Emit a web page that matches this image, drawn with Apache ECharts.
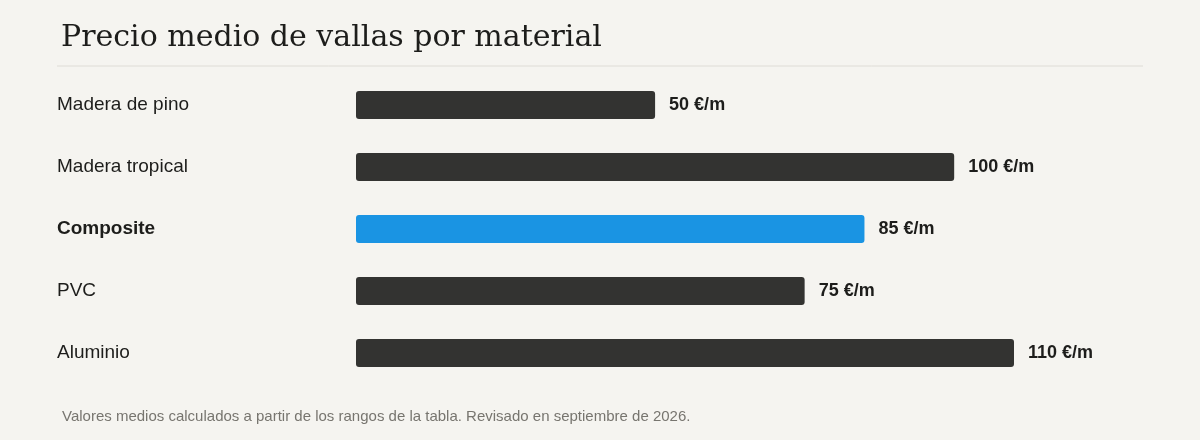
<!DOCTYPE html>
<html><head><meta charset="utf-8">
<script src="https://cdn.jsdelivr.net/npm/echarts@6/dist/echarts.min.js"></script>
<style>html,body{margin:0;background:#f5f4f0}#c{width:1200px;height:440px}</style>
</head><body><div id="c"></div>
<script>
const categories = ["Madera de pino","Madera tropical","Composite","PVC","Aluminio"];
const values = [50,100,85,75,110];
const highlight = "Composite";
const chart = echarts.init(document.getElementById('c'));
chart.setOption({
  backgroundColor:'#f5f4f0',
  title:[{text:'Precio medio de vallas por material',left:56,top:18,textStyle:{fontFamily:'DejaVu Serif, Liberation Serif, serif',fontWeight:'normal',fontSize:30,color:'#1d1d1b'}},
    {text:'Valores medios calculados a partir de los rangos de la tabla. Revisado en septiembre de 2026.',left:57,top:404,textStyle:{fontFamily:'Liberation Sans, Arial, sans-serif',fontWeight:'normal',fontSize:15,color:'#77756f'}}],
  graphic:[{type:'line',shape:{x1:57,y1:66,x2:1143,y2:66},style:{stroke:'#dedcd6',lineWidth:1}}],
  grid:{left:356,right:186,top:74,bottom:56},
  xAxis:{type:'value',min:0,max:110,show:false},
  yAxis:{type:'category',inverse:true,data:categories,axisLine:{show:false},axisTick:{show:false},
    axisLabel:{align:'left',margin:299,fontFamily:'Liberation Sans, Arial, sans-serif',fontSize:19,color:'#1d1d1b',
      formatter:v=>v===highlight?'{b|'+v+'}':v,rich:{b:{fontWeight:'bold',fontSize:19,fontFamily:'Liberation Sans, Arial, sans-serif',color:'#1d1d1b'}}}},
  series:[{type:'bar',barWidth:28,silent:true,
    data:values.map((v,i)=>({value:v,itemStyle:{color:categories[i]===highlight?'#1a94e3':'#333331',borderRadius:3}})),
    label:{show:true,position:'right',distance:14,formatter:p=>p.value+' €/m',fontFamily:'Liberation Sans, Arial, sans-serif',fontSize:18,fontWeight:'bold',color:'#1d1d1b'}}]
});
</script></body></html>
